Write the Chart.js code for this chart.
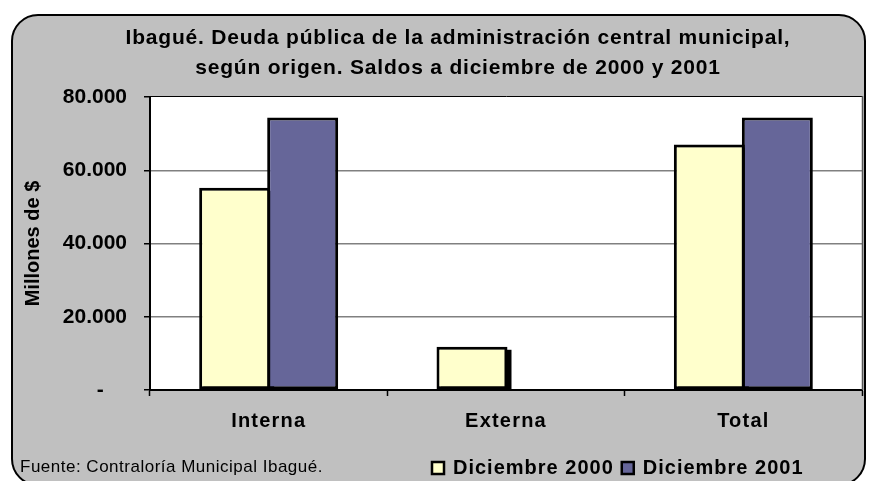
<!DOCTYPE html>
<html>
<head>
<meta charset="utf-8">
<script src="https://cdn.jsdelivr.net/npm/chart.js@4.4.0/dist/chart.umd.min.js"></script>
<style>
  html, body { margin: 0; padding: 0; background: #fff; }
</style>
</head>
<body>
<canvas id="chart" width="870" height="481"></canvas>
<script>
var categories = ['Interna', 'Externa', 'Total'];
var seriesNames = ['Diciembre 2000', 'Diciembre 2001'];
var dic2000 = [55200, 11800, 67000];
var dic2001 = [74400, 0, 74400];
var yMax = 80000;
var yStep = 20000;
var titleLines = [
  'Ibagué. Deuda pública de la administración central municipal,',
  'según origen. Saldos a diciembre de 2000 y 2001'
];
var yTitle = 'Millones de $';
var source = 'Fuente: Contraloría Municipal Ibagué.';

var colors = ['#FFFFCC', '#666699'];
var FONT = "'Liberation Sans', Arial, sans-serif";

function fmt(v) {
  if (v === 0) return '-    ';
  return String(v).replace(/\B(?=(\d{3})+(?!\d))/g, '.');
}

var excelLook = {
  id: 'excelLook',
  beforeDraw: function(chart) {
    var ctx = chart.ctx, a = chart.chartArea;
    ctx.save();
    ctx.fillStyle = '#fff';
    ctx.fillRect(0, 0, chart.width, chart.height);
    ctx.beginPath();
    ctx.roundRect(12, 15, 853, 470, 26);
    ctx.fillStyle = '#c0c0c0';
    ctx.fill();
    ctx.lineWidth = 2;
    ctx.strokeStyle = '#000';
    ctx.stroke();
    ctx.fillStyle = '#fff';
    ctx.fillRect(a.left, a.top, a.right - a.left, a.bottom - a.top);
    ctx.restore();
  },
  // drop shadow behind the first series, under every bar
  beforeDatasetsDraw: function(chart) {
    var ctx = chart.ctx, a = chart.chartArea;
    ctx.save();
    ctx.beginPath();
    ctx.rect(a.left, a.top, a.right - a.left, a.bottom - a.top);
    ctx.clip();
    ctx.fillStyle = '#000';
    chart.getDatasetMeta(0).data.forEach(function(bar) {
      var p = bar.getProps(['x', 'y', 'base', 'width'], true);
      if (p.base - p.y < 1) return;
      ctx.fillRect(p.x - p.width / 2 + 4, p.y + 3, p.width, p.base - p.y);
    });
    ctx.restore();
  },
  afterDatasetsDraw: function(chart) {
    chart.ctx.letterSpacing = '1.2px';
  },
  afterDraw: function(chart) {
    var ctx = chart.ctx, a = chart.chartArea;
    ctx.letterSpacing = '0px';
    ctx.save();
    // plot frame top / right
    ctx.strokeStyle = '#000';
    ctx.lineWidth = 1;
    ctx.beginPath();
    ctx.moveTo(a.left, a.top - 0.5);
    ctx.lineTo(a.right + 1, a.top - 0.5);
    ctx.stroke();
    ctx.strokeStyle = '#555';
    ctx.lineWidth = 1.5;
    ctx.beginPath();
    ctx.moveTo(a.right + 0.5, a.top - 1);
    ctx.lineTo(a.right + 0.5, a.bottom);
    ctx.stroke();

    // title
    ctx.fillStyle = '#000';
    ctx.textAlign = 'center';
    ctx.textBaseline = 'middle';
    ctx.font = 'bold 21px ' + FONT;
    ctx.letterSpacing = '0.8px';
    ctx.fillText(titleLines[0], 458, 38);
    ctx.fillText(titleLines[1], 458, 68);

    // source note
    ctx.textAlign = 'left';
    ctx.font = '17px ' + FONT;
    ctx.letterSpacing = '0.5px';
    ctx.fillText(source, 20, 467);

    // legend
    ctx.font = 'bold 20px ' + FONT;
    ctx.letterSpacing = '1px';
    var x = 432, y = 468;
    chart.data.datasets.forEach(function(ds) {
      ctx.fillStyle = ds.backgroundColor;
      ctx.fillRect(x, y - 6, 12, 12);
      ctx.strokeStyle = '#000';
      ctx.lineWidth = 2.5;
      ctx.strokeRect(x, y - 6, 12, 12);
      ctx.fillStyle = '#000';
      ctx.fillText(ds.label, x + 21, y);
      x += 21 + ctx.measureText(ds.label).width + 8;
    });
    ctx.restore();
  }
};

new Chart(document.getElementById('chart'), {
  type: 'bar',
  data: {
    labels: categories,
    datasets: [
      { label: seriesNames[0], data: dic2000, backgroundColor: colors[0] },
      { label: seriesNames[1], data: dic2001, backgroundColor: colors[1] }
    ]
  },
  plugins: [excelLook],
  options: {
    responsive: false,
    animation: false,
    devicePixelRatio: 1,
    layout: { padding: { top: 97, right: 8, bottom: 0, left: 0 } },
    datasets: {
      bar: {
        borderColor: '#000',
        borderWidth: 3,
        borderSkipped: false,
        categoryPercentage: 0.573,
        barPercentage: 1.044
      }
    },
    plugins: {
      legend: { display: false },
      title: { display: false },
      tooltip: { enabled: false }
    },
    scales: {
      x: {
        grid: {
          display: true,
          offset: true,
          drawOnChartArea: false,
          tickLength: 6,
          tickColor: '#000',
          tickWidth: 1.5
        },
        border: { display: true, color: '#000', width: 2 },
        ticks: {
          z: 1,
          color: '#000',
          padding: 13,
          font: { family: FONT, size: 20, weight: 'bold' }
        },
        afterFit: function(s) { s.height = 91; }
      },
      y: {
        min: 0,
        max: yMax,
        ticks: {
          stepSize: yStep,
          color: '#000',
          padding: 17,
          font: { family: FONT, size: 21, weight: 'bold' },
          callback: function(v) { return fmt(v); }
        },
        grid: {
          color: function(c) {
            var v = c.tick ? c.tick.value : 0;
            return (v > 0 && v < yMax) ? '#808080' : 'rgba(0,0,0,0)';
          },
          lineWidth: 1.5,
          tickColor: '#000',
          tickLength: 6,
          tickWidth: 1.5
        },
        border: { display: true, color: '#000', width: 2 },
        title: {
          display: true,
          text: yTitle,
          color: '#000',
          font: { family: FONT, size: 20, weight: 'bold' },
          padding: { top: 21, bottom: 0 }
        },
        afterFit: function(s) { s.width = 150; }
      }
    }
  }
});
</script>
</body>
</html>
